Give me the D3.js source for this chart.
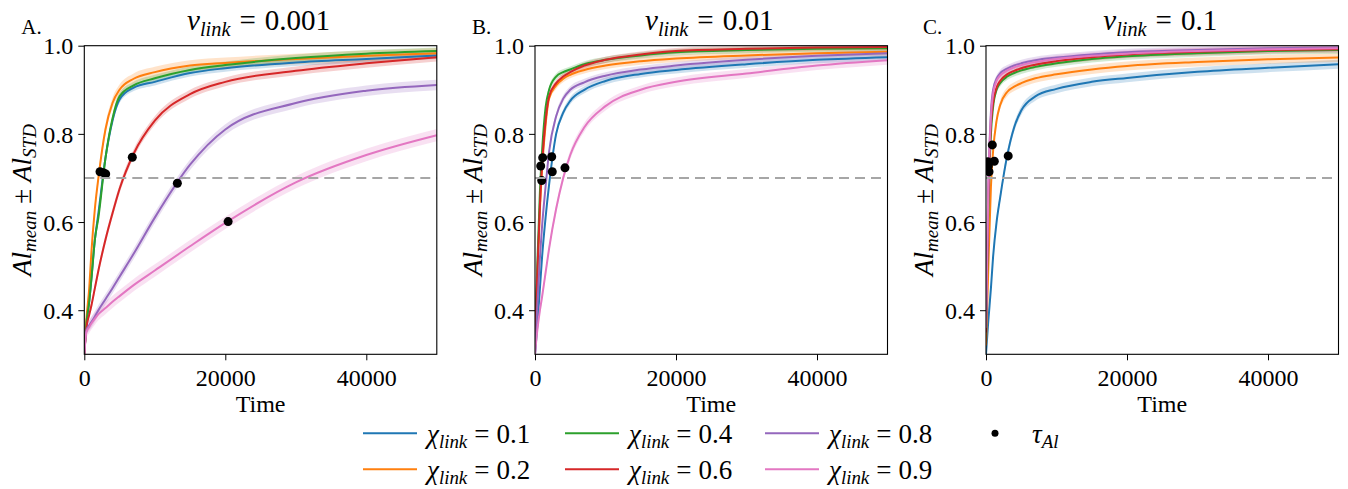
<!DOCTYPE html>
<html>
<head>
<meta charset="utf-8">
<script src="https://cdn.jsdelivr.net/npm/d3@7"></script>
<style>
body { margin: 0; background: #fff; }
text { font-family: "Liberation Serif", "Times New Roman", serif; fill: #000; }
</style>
</head>
<body>
<div id="chart"></div>
<script>
// sample times shared by all series
const times = [0, 300, 700, 1000, 1500, 2000, 3000, 4000, 5000, 7000, 10000, 15000, 20000, 30000, 40000, 50000];

const chiLabels = ["0.1", "0.2", "0.4", "0.6", "0.8", "0.9"];
const colors = ["#1f77b4", "#ff7f0e", "#2ca02c", "#d62728", "#9467bd", "#e377c2"];
const panelLetters = ["A.", "B.", "C."];
const nuLabels = ["0.001", "0.01", "0.1"];
const xTicks = [0, 20000, 40000];
const yTicks = [0.4, 0.6, 0.8, 1.0];
const threshold = 0.7;

// A: nu_link = 0.001
const meanA_01 = [0.30, 0.37, 0.42, 0.47, 0.56, 0.62, 0.745, 0.83, 0.878, 0.905, 0.918, 0.938, 0.949, 0.962, 0.970, 0.978];
const meanA_02 = [0.30, 0.38, 0.45, 0.53, 0.63, 0.70, 0.81, 0.87, 0.90, 0.925, 0.94, 0.955, 0.961, 0.970, 0.977, 0.983];
const meanA_04 = [0.30, 0.37, 0.42, 0.47, 0.56, 0.61, 0.745, 0.835, 0.885, 0.91, 0.926, 0.945, 0.956, 0.972, 0.982, 0.988];
const meanA_06 = [0.30, 0.36, 0.39, 0.41, 0.45, 0.49, 0.56, 0.62, 0.675, 0.755, 0.83, 0.89, 0.918, 0.943, 0.960, 0.974];
const meanA_08 = [0.30, 0.355, 0.366, 0.373, 0.386, 0.40, 0.425, 0.45, 0.476, 0.528, 0.61, 0.73, 0.81, 0.87, 0.898, 0.911];
const meanA_09 = [0.30, 0.35, 0.362, 0.37, 0.381, 0.391, 0.405, 0.419, 0.432, 0.457, 0.49, 0.545, 0.598, 0.69, 0.752, 0.797];
const stdA = [0.008, 0.012, 0.008, 0.010, 0.012, 0.014];
const tauTimeA = [2700, 2230, 3035, 6810, 13200, 20400];
const tauValA = [0.712, 0.714, 0.709, 0.747, 0.688, 0.601];

// B: nu_link = 0.01
const meanB_01 = [0.30, 0.36, 0.45, 0.52, 0.61, 0.685, 0.800, 0.848, 0.875, 0.90, 0.92, 0.936, 0.945, 0.958, 0.968, 0.974];
const meanB_02 = [0.32, 0.46, 0.63, 0.72, 0.82, 0.88, 0.91, 0.925, 0.934, 0.945, 0.955, 0.965, 0.971, 0.978, 0.983, 0.986];
const meanB_04 = [0.33, 0.49, 0.67, 0.76, 0.86, 0.90, 0.93, 0.94, 0.946, 0.958, 0.968, 0.978, 0.985, 0.990, 0.993, 0.994];
const meanB_06 = [0.33, 0.47, 0.64, 0.73, 0.83, 0.885, 0.915, 0.93, 0.94, 0.955, 0.968, 0.980, 0.988, 0.993, 0.996, 0.997];
const meanB_08 = [0.30, 0.40, 0.52, 0.59, 0.68, 0.76, 0.84, 0.88, 0.90, 0.917, 0.932, 0.946, 0.955, 0.968, 0.977, 0.983];
const meanB_09 = [0.30, 0.35, 0.40, 0.43, 0.485, 0.54, 0.63, 0.70, 0.752, 0.815, 0.863, 0.90, 0.918, 0.937, 0.955, 0.967];
const stdB = [0.008, 0.008, 0.007, 0.007, 0.008, 0.010];
const tauTimeB = [2450, 950, 810, 1090, 2370, 4250];
const tauValB = [0.714, 0.694, 0.727, 0.746, 0.748, 0.723];

// C: nu_link = 0.1
const meanC_01 = [0.30, 0.37, 0.45, 0.52, 0.60, 0.655, 0.75, 0.815, 0.853, 0.885, 0.902, 0.918, 0.927, 0.941, 0.950, 0.958];
const meanC_02 = [0.32, 0.48, 0.68, 0.76, 0.83, 0.865, 0.895, 0.907, 0.915, 0.926, 0.935, 0.946, 0.954, 0.963, 0.969, 0.973];
const meanC_04 = [0.35, 0.60, 0.80, 0.86, 0.90, 0.915, 0.93, 0.938, 0.944, 0.952, 0.960, 0.970, 0.976, 0.983, 0.988, 0.990];
const meanC_06 = [0.35, 0.62, 0.82, 0.87, 0.905, 0.92, 0.935, 0.943, 0.949, 0.957, 0.965, 0.974, 0.980, 0.986, 0.990, 0.992];
const meanC_08 = [0.36, 0.66, 0.85, 0.90, 0.925, 0.937, 0.948, 0.955, 0.960, 0.967, 0.973, 0.980, 0.985, 0.990, 0.994, 0.996];
const meanC_09 = [0.36, 0.65, 0.84, 0.89, 0.92, 0.932, 0.944, 0.951, 0.956, 0.963, 0.970, 0.977, 0.982, 0.988, 0.992, 0.994];
const stdC = [0.010, 0.010, 0.008, 0.008, 0.008, 0.008];
const tauTimeC = [3150, 1180, 895, 330, 430, 240];
const tauValC = [0.750, 0.738, 0.775, 0.727, 0.714, 0.737];

const panels = [
    { means: [meanA_01, meanA_02, meanA_04, meanA_06, meanA_08, meanA_09], std: stdA, tauT: tauTimeA, tauV: tauValA },
    { means: [meanB_01, meanB_02, meanB_04, meanB_06, meanB_08, meanB_09], std: stdB, tauT: tauTimeB, tauV: tauValB },
    { means: [meanC_01, meanC_02, meanC_04, meanC_06, meanC_08, meanC_09], std: stdC, tauT: tauTimeC, tauV: tauValC }
];

const W = 1348, H = 489;
const panelLeft = [84.3, 535, 986];
const plotW = 352.5, plotTop = 45.7, plotH = 308.6;
const serif = "'Liberation Serif', 'Times New Roman', serif";

const svg = d3.select("#chart").append("svg")
    .attr("width", W)
    .attr("height", H)
    .attr("font-family", serif);

const xScale = d3.scaleLinear().domain([0, 50000]).range([0, plotW]);
const yScale = d3.scaleLinear().domain([0.3, 1.0]).range([plotH, 0]);

svg.append("defs").append("clipPath")
    .attr("id", "plotClip")
    .append("rect")
    .attr("width", plotW)
    .attr("height", plotH);

// mathtext-like label: italic symbol + italic subscript + upright " = value"
function mathLabel(sel, sym, sub, value, size, subShift, gap) {
    sel.append("tspan").attr("font-style", "italic").text(sym);
    sel.append("tspan").attr("font-style", "italic")
        .attr("font-size", size * 0.7).attr("dy", subShift).text(sub);
    if (value) {
        sel.append("tspan").attr("dy", -subShift).attr("dx", gap).text("=");
        sel.append("tspan").attr("dx", gap).text(value);
    }
}

panels.forEach((p, pi) => {
    const g = svg.append("g")
        .attr("transform", `translate(${panelLeft[pi]},${plotTop})`);

    const plot = g.append("g").attr("clip-path", "url(#plotClip)");

    // std bands
    p.means.forEach((m, si) => {
        const area = d3.area()
            .x((d, i) => xScale(times[i]))
            .y0(d => yScale(d - p.std[si]))
            .y1(d => yScale(d + p.std[si]))
            .curve(d3.curveMonotoneX);
        plot.append("path")
            .datum(m)
            .attr("fill", colors[si])
            .attr("fill-opacity", 0.22)
            .attr("d", area);
    });

    // mean lines
    p.means.forEach((m, si) => {
        const line = d3.line()
            .x((d, i) => xScale(times[i]))
            .y(d => yScale(d))
            .curve(d3.curveMonotoneX);
        plot.append("path")
            .datum(m)
            .attr("fill", "none")
            .attr("stroke", colors[si])
            .attr("stroke-width", 2)
            .attr("d", line);
    });

    // tau points
    plot.selectAll(".tau")
        .data(p.tauT)
        .enter()
        .append("circle")
        .attr("cx", d => xScale(d))
        .attr("cy", (d, i) => yScale(p.tauV[i]))
        .attr("r", 4.5)
        .attr("fill", "#000");

    // threshold line
    plot.append("line")
        .attr("x1", xScale(0)).attr("x2", xScale(50000))
        .attr("y1", yScale(threshold)).attr("y2", yScale(threshold))
        .attr("stroke", "#a6a6a6")
        .attr("stroke-width", 2)
        .attr("stroke-dasharray", "10 6");

    // axes
    const xAxis = g.append("g")
        .attr("transform", `translate(0,${plotH})`)
        .call(d3.axisBottom(xScale).tickValues(xTicks).tickSize(6).tickPadding(5).tickFormat(d3.format("d")));
    const yAxis = g.append("g")
        .call(d3.axisLeft(yScale).tickValues(yTicks).tickSize(6).tickPadding(5).tickFormat(d3.format(".1f")));
    [xAxis, yAxis].forEach(a => {
        a.attr("font-family", serif);
        a.select(".domain").remove();
        a.selectAll("line").attr("stroke", "#000").attr("stroke-width", 1);
        a.selectAll("text")
            .attr("font-size", 24)
            .attr("fill", "#000");
    });
    xAxis.selectAll("text").attr("dy", "0.85em");
    yAxis.selectAll("text").attr("dy", "0.34em");

    // frame
    g.append("rect")
        .attr("width", plotW)
        .attr("height", plotH)
        .attr("fill", "none")
        .attr("stroke", "#000")
        .attr("stroke-width", 1.1);

    // x label
    g.append("text")
        .attr("x", plotW / 2)
        .attr("y", 366)
        .attr("text-anchor", "middle")
        .attr("font-size", 24)
        .text("Time");

    // y label
    const yl = g.append("text")
        .attr("transform", `translate(-53,${plotH / 2}) rotate(-90)`)
        .attr("text-anchor", "middle")
        .attr("font-size", 27);
    yl.append("tspan").attr("font-style", "italic").text("Al");
    yl.append("tspan").attr("font-style", "italic").attr("font-size", 19).attr("dy", 5).text("mean");
    yl.append("tspan").attr("dy", -5).attr("dx", 7).text("\u00b1");
    yl.append("tspan").attr("dx", 7).attr("font-style", "italic").text("Al");
    yl.append("tspan").attr("font-style", "italic").attr("font-size", 19).attr("dy", 5).text("STD");

    // title
    const t = g.append("text")
        .attr("x", plotW / 2 - 2)
        .attr("y", -16)
        .attr("text-anchor", "middle")
        .attr("font-size", 29);
    mathLabel(t, "\u03bd", "link", nuLabels[pi], 29, 6, 9);

    // panel letter
    g.append("text")
        .attr("x", -63)
        .attr("y", -12)
        .attr("font-size", 21)
        .text(panelLetters[pi]);
});

// legend (4 columns, filled column-wise like matplotlib)
const legendCols = [363, 565, 765, 968];
const legendRows = [433.3, 469.3];
const legend = svg.append("g");
chiLabels.forEach((lab, i) => {
    const cx = legendCols[Math.floor(i / 2)];
    const cy = legendRows[i % 2];
    legend.append("line")
        .attr("x1", cx).attr("x2", cx + 54)
        .attr("y1", cy).attr("y2", cy)
        .attr("stroke", colors[i])
        .attr("stroke-width", 2);
    const tx = legend.append("text")
        .attr("x", cx + 64)
        .attr("y", cy + 10)
        .attr("font-size", 27);
    mathLabel(tx, "\u03c7", "link", lab, 27, 5, 7);
});
legend.append("circle")
    .attr("cx", legendCols[3] + 27)
    .attr("cy", legendRows[0])
    .attr("r", 3.5)
    .attr("fill", "#000");
const tauText = legend.append("text")
    .attr("x", legendCols[3] + 64)
    .attr("y", legendRows[0] + 10)
    .attr("font-size", 27);
mathLabel(tauText, "\u03c4", "Al", "", 27, 5, 0);
</script>
</body>
</html>
